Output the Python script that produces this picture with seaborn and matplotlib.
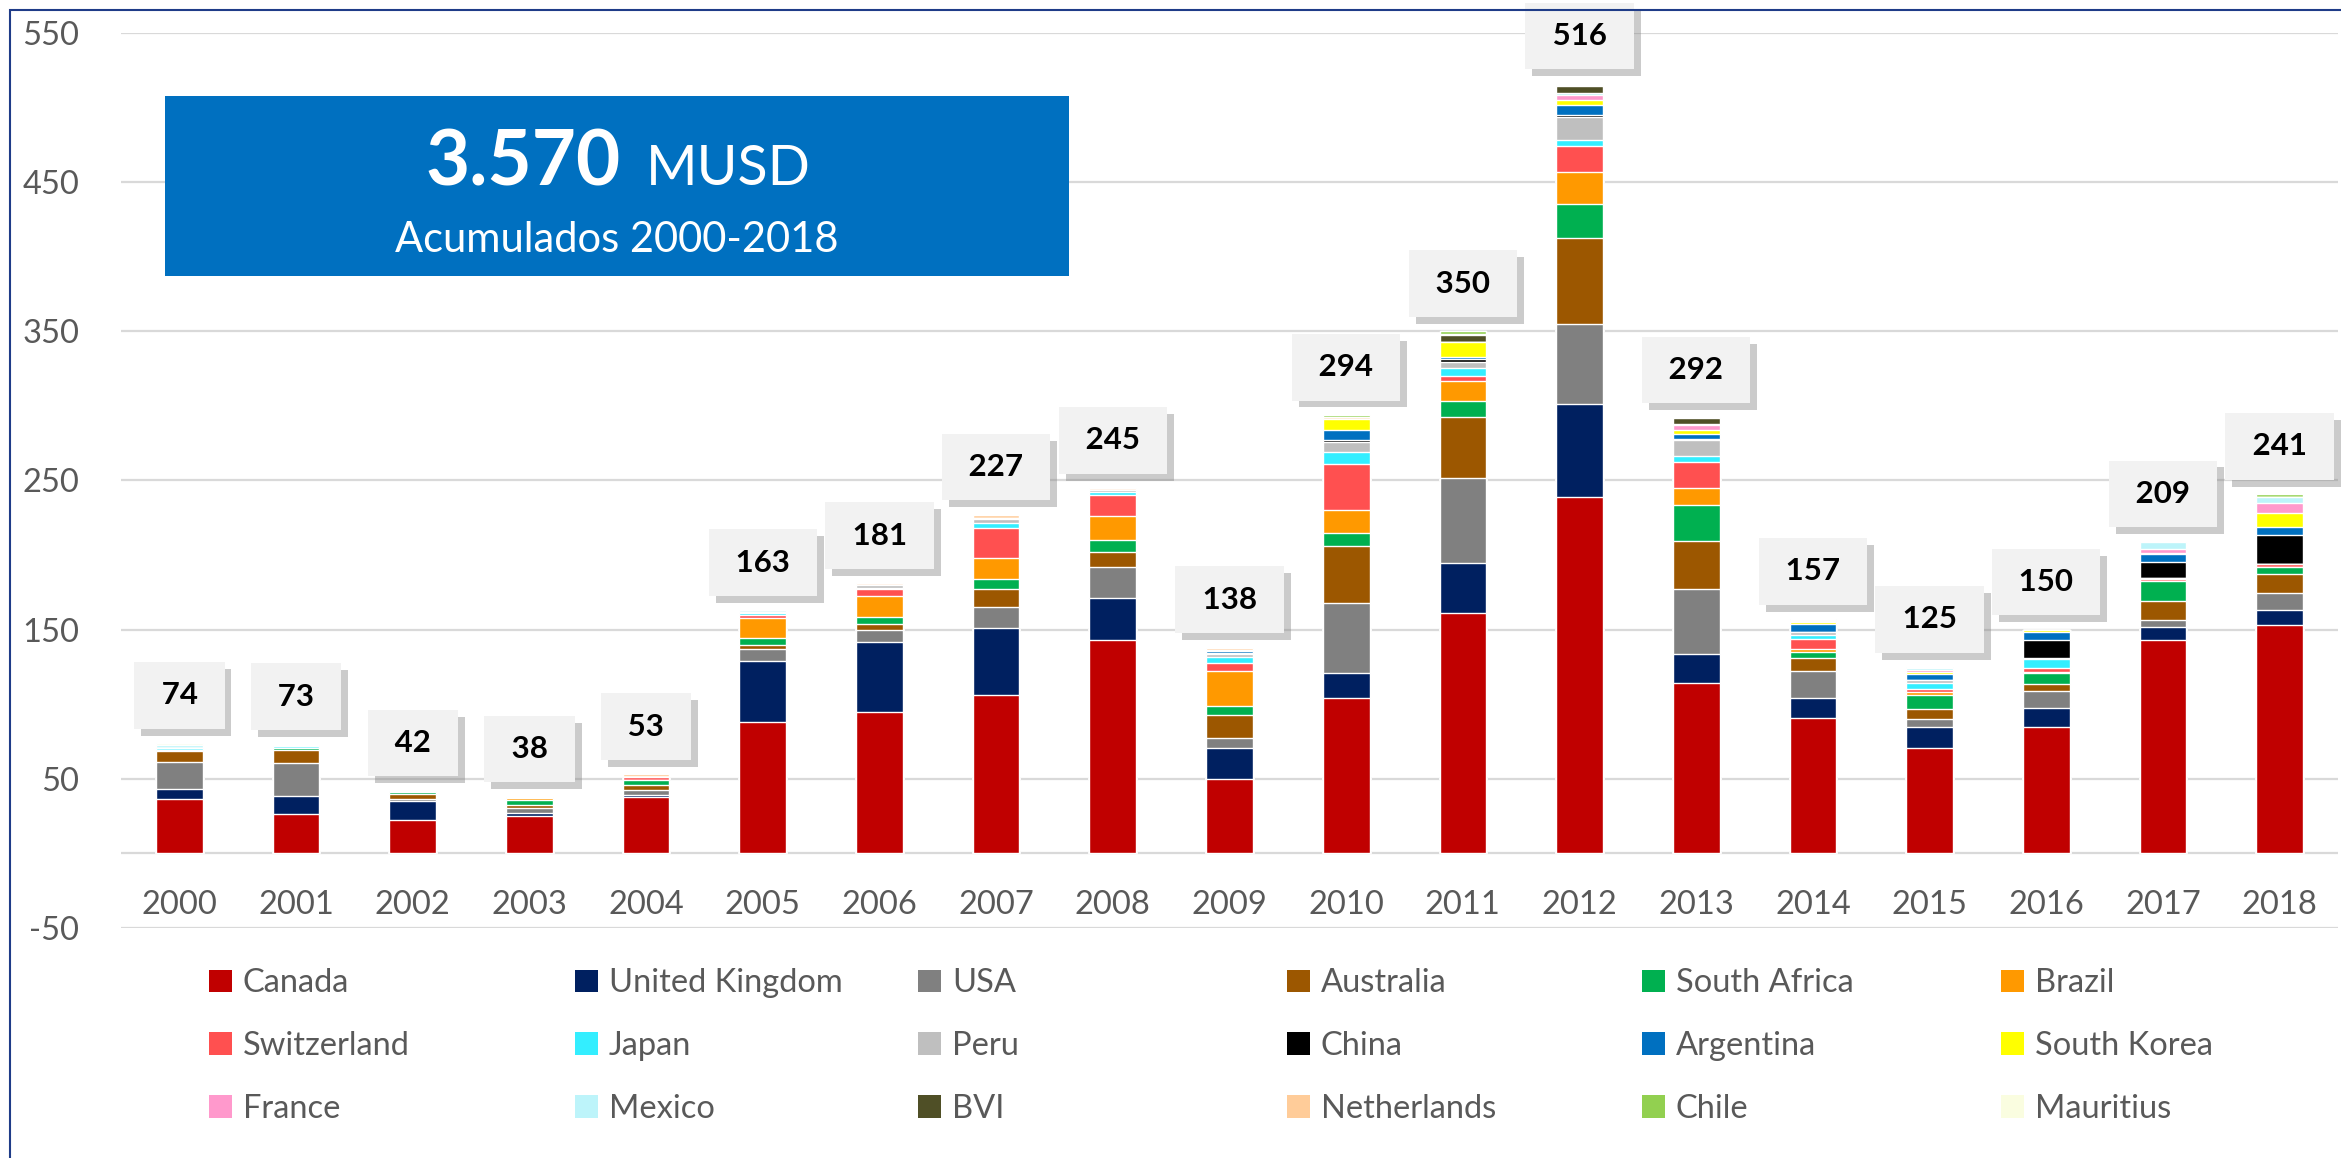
import matplotlib
matplotlib.use("Agg")
import matplotlib.pyplot as plt
import matplotlib.patheffects as pe
from matplotlib.patches import Patch, Rectangle
import numpy as np
import seaborn as sns

# --- data (MUSD per year and origin country) ---
years = [str(y) for y in range(2000, 2019)]

countries = ["Canada", "United Kingdom", "USA", "Australia", "South Africa", "Brazil",
             "Switzerland", "Japan", "Peru", "China", "Argentina", "South Korea",
             "France", "Mexico", "BVI", "Netherlands", "Chile", "Mauritius"]

canada = [36.5, 26.5, 22.5, 25, 38, 88, 94.5, 106, 143, 50, 104, 161.5, 239, 114, 90.5, 71, 84.5, 143, 153]
united_kingdom = [6.5, 12, 12.5, 2, 1, 41, 47, 45, 28, 20.5, 17, 33, 62, 20, 14, 13.5, 13, 8.5, 10.5]
usa = [18.5, 22, 1.5, 3.5, 3.5, 8, 8.5, 14.5, 21, 7, 47, 57, 54, 43.5, 18, 5.5, 11.5, 5, 11]
australia = [7, 9, 3.5, 2, 3.5, 3, 3.5, 11.5, 10, 15, 38, 41, 57.5, 32, 8.5, 6.5, 4.5, 13, 12.5]
south_africa = [1, 1.5, 1, 3.5, 3.5, 4.5, 5, 7, 8, 6.5, 8.5, 11, 23, 24, 4, 10, 7.5, 13, 5]
brazil = [0, 0, 0, 1, 0, 13.5, 14, 14, 16.5, 23.5, 16, 13, 21, 11.5, 2, 2, 0.5, 0, 0]
switzerland = [0, 0, 0, 0, 1.5, 1.5, 4.5, 20, 13.5, 5, 30.5, 3.5, 18, 17.5, 6.5, 2, 3, 1.5, 2]
japan = [1.5, 1, 0.5, 0, 0, 2, 1, 3.5, 2, 4.5, 8, 5.5, 4, 4, 3, 4, 6, 0.5, 0]
peru = [0, 0, 0, 0, 0.5, 0.5, 2, 3, 1.5, 2, 6.5, 4, 15, 10.5, 2, 1.5, 0.5, 0, 0]
china = [0, 0, 0, 0, 0, 0, 0, 0, 0, 0.5, 1.5, 2, 1.5, 0.5, 0, 0.5, 12, 11, 19.5]
argentina = [0, 0, 0, 0, 0, 0, 0, 0, 0, 1.5, 7, 1.5, 7, 3.5, 5, 4, 5.5, 5, 5]
south_korea = [0, 0, 0, 0, 0, 0, 0, 0, 0, 0, 7, 10, 3, 3, 1.5, 1, 1, 1, 10]
france = [0, 0, 0, 0, 0, 0, 0, 0, 0, 0, 0, 0, 3.5, 3, 1, 1.5, 0, 2.5, 6.5]
mexico = [2, 1, 0.5, 0, 0, 1, 0, 0.5, 0, 0.5, 0, 0, 1, 1, 0.5, 1, 0, 5, 4]
bvi = [0, 0, 0, 0, 0, 0, 0, 0, 0, 0, 0, 4.5, 5, 4, 0.5, 0.5, 0, 0, 0]
netherlands = [0, 0, 0, 1, 1.5, 0, 1, 2, 1.5, 1.5, 1.5, 1, 0.5, 0, 0, 0, 0, 0, 0]
chile = [0, 0, 0, 0, 0, 0, 0, 0, 0, 0, 1.5, 1.5, 0, 0, 0, 0.5, 0.5, 0, 2]
mauritius = [1, 0, 0, 0, 0, 0, 0, 0, 0, 0, 0, 0, 1, 0, 0, 0, 0, 0, 0]

series = [canada, united_kingdom, usa, australia, south_africa, brazil, switzerland,
          japan, peru, china, argentina, south_korea, france, mexico, bvi,
          netherlands, chile, mauritius]

colors = ["#C00000", "#002060", "#808080", "#9C5700", "#00B050", "#FF9900",
          "#FF5050", "#33EEFF", "#BFBFBF", "#000000", "#0070C0", "#FFFF00",
          "#FF99CC", "#BDF4FA", "#4F4F26", "#FFCC99", "#92D050", "#FAFDE0"]

total_musd = "3.570"
subtitle = "Acumulados 2000-2018"

# --- style ---
sns.set_theme(style="white")
plt.rcParams["font.family"] = ["Lato", "DejaVu Sans"]
plt.rcParams["axes.unicode_minus"] = False
GREY_TXT = "#595959"
GRID = "#D9D9D9"
FS = 23.5

W, H = 2341, 1158
fig = plt.figure(figsize=(W / 100, H / 100), dpi=100)
ax = fig.add_axes([121 / W, 1 - 928 / H, (2338 - 121) / W, (928 - 33) / H])

# stacked bars: draw cumulative heights from top layer down so lower layers overpaint
cum = np.cumsum(np.array(series, dtype=float), axis=0)
for k in range(len(series) - 1, -1, -1):
    sns.barplot(x=years, y=cum[k], color=colors[k], saturation=1, width=0.4,
                ax=ax, zorder=3)

totals = cum[-1]

ax.set_ylim(-50, 550)
ax.set_xlim(-0.5, len(years) - 0.5)
ax.set_yticks(np.arange(-50, 551, 100))
ax.set_xlabel("")
ax.set_ylabel("")
for s in ax.spines.values():
    s.set_visible(False)
ax.grid(axis="y", color=GRID, linewidth=1.6, zorder=0)
ax.axhline(0, color=GRID, linewidth=1.6, zorder=1)
ax.tick_params(axis="y", length=0, pad=30, labelsize=FS, labelcolor=GREY_TXT)
ax.tick_params(axis="x", length=0, pad=-27, labelsize=FS, labelcolor=GREY_TXT)
ax.set_axisbelow(True)

# total callouts
for i, t in enumerate(totals):
    txt = ax.text(i, t + 32, f" {t:.0f} ", ha="center", va="center",
                  fontsize=22.5, fontweight="bold", color="black", zorder=6,
                  bbox=dict(boxstyle="square,pad=0.62", facecolor="#F2F2F2",
                            edgecolor="none"))
    txt.get_bbox_patch().set_path_effects([
        pe.SimplePatchShadow(offset=(5, -5), shadow_rgbFace="#7F7F7F", alpha=0.4),
        pe.Normal()])

# legend: six columns, three rows, row-major like the original
handles = [Patch(facecolor=c, edgecolor="none") for c in colors]
col_x = [209, 575, 918, 1287, 1642, 2001]
for c, x in enumerate(col_x):
    leg = fig.legend(handles[c::6], countries[c::6], loc="center left",
                     bbox_to_anchor=(x / W, 1 - 1046 / H), frameon=False,
                     fontsize=FS, labelcolor=GREY_TXT, handlelength=0.69,
                     handleheight=0.69, handletextpad=0.35, labelspacing=1.0,
                     borderpad=0, borderaxespad=0)

# headline box
fig.add_artist(Rectangle((165 / W, 1 - 276 / H), 904 / W, 180 / H,
                         transform=fig.transFigure, facecolor="#0070C0",
                         edgecolor="none", zorder=5))
fig.text(621 / W, 1 - 185 / H, total_musd, ha="right", va="baseline",
         fontsize=55, fontweight="bold", color="white", zorder=6)
fig.text(646 / W, 1 - 185 / H, "MUSD", ha="left", va="baseline",
         fontsize=40, color="white", zorder=6)
fig.text(617 / W, 1 - 252 / H, subtitle, ha="center", va="baseline",
         fontsize=30, color="white", zorder=6)

# outer frame
fig.add_artist(Rectangle((10 / W, -0.1), 2.0, 1.1 - 10 / H,
                         transform=fig.transFigure, fill=False,
                         edgecolor="#1F3C88", linewidth=1.5, zorder=10))

fig.savefig("out.png", dpi=100)
